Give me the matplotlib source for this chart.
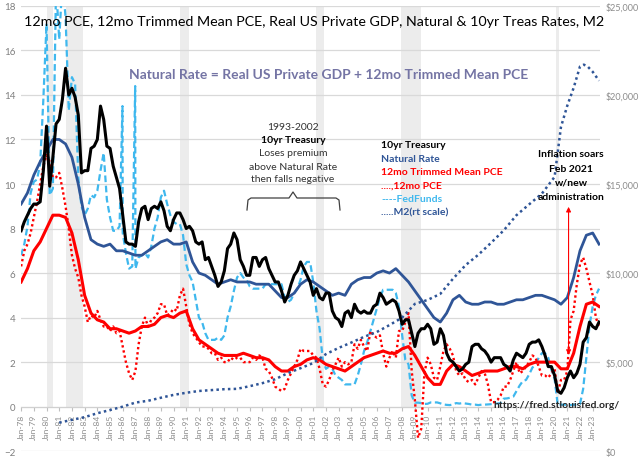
import numpy as np
import matplotlib
matplotlib.use("Agg")
import matplotlib.pyplot as plt
from matplotlib.lines import Line2D
from matplotlib.ticker import FuncFormatter

plt.rcParams['font.family'] = ['Lato', 'DejaVu Sans']

# quarterly series, Jan-78 .. Q3-23
treas10 = [
    7.9, 8.3, 8.6, 8.9,   9.1, 9.1, 9.2, 10.6,   12.6, 9.9, 11.2, 12.7,
    12.9, 13.8, 15.2, 14.0,   14.3, 13.9, 13.1, 10.5,   10.6, 10.6, 11.6, 11.7,
    12.0, 13.5, 12.9, 11.7,   11.6, 10.8, 10.3, 9.8,   8.6, 7.4, 7.3, 7.3,
    7.2, 8.3, 8.9, 9.0,   8.4, 8.9, 9.0, 8.9,   9.2, 8.8, 8.1, 7.9,
    8.4, 8.7, 8.7, 8.4,   8.0, 8.1, 7.9, 7.4,   7.3, 7.4, 6.6, 6.7,
    6.3, 5.9, 5.4, 5.6,   6.1, 7.1, 7.3, 7.8,   7.5, 6.6, 6.3, 5.9,
    5.9, 6.7, 6.7, 6.3,   6.6, 6.7, 6.2, 5.9,   5.6, 5.6, 5.2, 4.7,
    5.0, 5.5, 5.9, 6.1,   6.5, 6.2, 5.9, 5.6,   5.0, 5.3, 4.9, 4.8,
    5.1, 5.1, 4.3, 4.0,   3.9, 3.6, 4.2, 4.3,   4.0, 4.6, 4.3, 4.2,
    4.3, 4.2, 4.2, 4.5,   4.6, 5.1, 4.9, 4.6,   4.7, 4.8, 4.7, 4.3,
    3.7, 3.9, 3.9, 3.3,   2.7, 3.3, 3.5, 3.5,   3.7, 3.5, 2.8, 2.9,
    3.5, 3.2, 2.4, 2.1,   2.0, 1.8, 1.6, 1.7,   1.9, 2.0, 2.7, 2.8,
    2.8, 2.6, 2.5, 2.3,   2.0, 2.2, 2.2, 2.2,   1.9, 1.8, 1.6, 2.1,
    2.4, 2.3, 2.2, 2.4,   2.8, 2.9, 2.9, 3.0,   2.7, 2.3, 1.8, 1.8,
    1.4, 0.7, 0.6, 0.85,   1.3, 1.6, 1.3, 1.5,   1.9, 2.9, 3.1, 3.8,
    3.6, 3.5, 3.8,
]

fedfunds = [
    6.8, 7.3, 8.1, 9.6,   10.1, 10.2, 10.9, 13.8,   17.2, 9.5, 9.8, 18.9,
    16.5, 19.1, 17.5, 13.3,   14.8, 14.5, 10.3, 9.0,   8.6, 8.9, 9.5, 9.4,
    9.7, 10.6, 11.4, 9.3,   8.5, 7.9, 7.9, 8.1,   7.8, 6.9, 6.2, 6.3,
    6.2, 6.7, 6.8, 6.9,   6.7, 7.2, 8.0, 8.5,   9.4, 9.7, 9.1, 8.6,
    8.3, 8.2, 8.2, 7.7,   6.4, 5.9, 5.6, 4.8,   4.0, 3.8, 3.3, 3.0,
    3.0, 3.0, 3.1, 3.0,   3.2, 4.0, 4.5, 5.2,   5.8, 6.0, 5.8, 5.7,
    5.4, 5.3, 5.3, 5.3,   5.3, 5.5, 5.5, 5.5,   5.5, 5.5, 5.5, 4.9,
    4.7, 4.8, 5.1, 5.3,   5.7, 6.3, 6.5, 6.5,   5.6, 4.3, 3.5, 2.1,
    1.7, 1.8, 1.7, 1.4,   1.3, 1.2, 1.0, 1.0,   1.0, 1.0, 1.4, 1.9,
    2.5, 2.9, 3.4, 3.9,   4.4, 4.9, 5.25, 5.25,   5.25, 5.25, 5.1, 4.5,
    3.2, 2.1, 1.9, 0.5,   0.18, 0.18, 0.16, 0.12,   0.13, 0.19, 0.19, 0.19,
    0.15, 0.1, 0.08, 0.07,   0.1, 0.16, 0.14, 0.16,   0.14, 0.12, 0.09, 0.09,
    0.07, 0.09, 0.09, 0.1,   0.11, 0.13, 0.14, 0.16,   0.36, 0.37, 0.4, 0.45,
    0.7, 0.95, 1.15, 1.2,   1.45, 1.75, 1.9, 2.2,   2.4, 2.4, 2.2, 1.65,
    1.25, 0.06, 0.09, 0.09,   0.08, 0.07, 0.09, 0.08,   0.12, 0.8, 2.2, 3.65,
    4.5, 5.0, 5.3,
]
# year-end fed funds spikes
ff_spike_x = [1985.98, 1986.98]
ff_spike = [13.5, 14.4]

pce12 = [
    6.3, 7.0, 7.3, 7.8,   8.5, 9.2, 10.0, 10.8,   11.3, 11.0, 10.3, 10.3,
    10.5, 9.8, 9.0, 8.0,   6.8, 6.2, 5.8, 5.0,   4.5, 3.8, 4.1, 4.0,
    4.3, 3.9, 3.6, 3.6,   3.4, 3.6, 3.3, 3.4,   2.7, 2.0, 1.5, 1.2,
    1.6, 2.8, 3.6, 4.0,   3.6, 3.9, 4.0, 4.2,   4.6, 4.6, 4.1, 4.2,
    4.4, 4.3, 5.0, 5.3,   4.5, 3.7, 3.3, 3.1,   2.9, 2.7, 2.7, 2.6,
    2.4, 2.4, 2.1, 2.2,   2.0, 2.0, 2.2, 2.1,   2.2, 2.2, 2.0, 2.0,
    2.0, 2.2, 2.1, 2.3,   2.2, 1.7, 1.6, 1.3,   0.9, 0.8, 0.7, 0.8,
    1.2, 1.5, 1.8, 2.1,   2.6, 2.5, 2.5, 2.5,   2.3, 2.2, 1.7, 1.0,
    0.9, 1.2, 1.6, 1.9,   2.2, 1.8, 2.0, 1.9,   2.0, 2.8, 2.6, 3.0,
    2.7, 2.5, 3.4, 3.2,   3.1, 3.2, 2.4, 1.8,   2.2, 2.5, 2.2, 3.4,
    3.4, 3.8, 4.2, 1.6,   0.3, -1.4, -1.0, 1.5,   2.2, 1.9, 1.3, 1.2,
    1.8, 2.5, 2.8, 2.6,   2.3, 1.6, 1.4, 1.5,   1.2, 1.1, 1.2, 1.0,
    1.3, 1.6, 1.5, 1.0,   0.2, 0.2, 0.3, 0.5,   0.9, 0.9, 1.2, 1.6,
    2.0, 1.5, 1.6, 1.8,   2.0, 2.3, 2.2, 1.8,   1.4, 1.4, 1.3, 1.5,
    1.7, 0.6, 1.2, 1.2,   1.6, 3.9, 4.3, 5.5,   6.4, 6.7, 6.2, 5.6,
    5.0, 4.0, 3.6,
]

# semiannual series, Jan-78 .. Jul-23
natural = [
    9.1, 9.6,  10.4, 11.0,  11.5, 12.0,  12.0, 11.8,  11.2, 10.0,
    8.5, 7.5,  7.3, 7.2,  7.3, 7.0,  7.0, 6.9,  6.8, 6.8,
    7.0, 7.2,  7.4, 7.5,  7.3, 7.3,  7.4, 6.5,  6.0, 5.9,
    5.7, 5.5,  5.6, 5.7,  5.6, 5.6,  5.6, 5.5,  5.5, 5.5,
    5.2, 4.9,  4.9, 5.1,  5.5, 5.7,  5.6, 5.4,  5.2, 5.0,
    5.1, 5.0,  5.5, 5.7,  5.8, 5.8,  6.0, 6.1,  6.0, 6.2,
    5.9, 5.6,  5.2, 4.8,  4.4, 4.0,  3.8, 4.2,  4.8, 5.0,
    4.7, 4.6,  4.6, 4.7,  4.7, 4.6,  4.6, 4.7,  4.8, 4.8,
    4.9, 5.0,  5.0, 4.9,  4.8, 4.6,  4.9, 5.8,  7.0, 7.7,
    7.8, 7.3,
]

trimmed = [
    5.6, 6.2,  7.0, 7.4,  8.0, 8.6,  8.6, 8.5,  7.8, 6.6,
    5.0, 4.2,  3.9, 3.8,  3.5, 3.5,  3.4, 3.3,  3.4, 3.6,
    3.6, 3.7,  4.0, 4.1,  4.0, 4.2,  4.3, 3.5,  3.0, 2.8,
    2.6, 2.4,  2.3, 2.3,  2.3, 2.4,  2.3, 2.2,  2.2, 2.1,
    1.8, 1.6,  1.6, 1.8,  1.9, 2.1,  2.2, 2.1,  1.9, 1.8,
    1.7, 1.6,  1.8, 2.0,  2.2, 2.3,  2.4, 2.5,  2.4, 2.4,
    2.6, 2.7,  2.3, 1.8,  1.3, 1.0,  1.0, 1.6,  1.9, 1.8,
    1.6, 1.4,  1.5, 1.6,  1.6, 1.6,  1.7, 1.8,  1.8, 1.7,
    1.9, 2.0,  2.0, 2.0,  2.0, 1.7,  1.7, 2.4,  3.6, 4.6,
    4.7, 4.5,
]

# M2, $ billions (right scale)
m2_years = [1981, 1982, 1983, 1984, 1985, 1986, 1987, 1988, 1989, 1990,
            1991, 1992, 1993, 1994, 1995, 1996, 1997, 1998, 1999, 2000,
            2001, 2002, 2003, 2004, 2005, 2006, 2007, 2008, 2009, 2010,
            2011, 2012, 2013, 2014, 2015, 2016, 2017, 2018, 2019, 2020,
            2020.5, 2021, 2021.5, 2022, 2022.3, 2022.6, 2023, 2023.5]
m2 = [1600, 1760, 1910, 2130, 2310, 2500, 2730, 2830, 3000, 3160,
      3280, 3380, 3430, 3480, 3500, 3650, 3820, 4040, 4380, 4660,
      4950, 5450, 5800, 6100, 6420, 6690, 7080, 7500, 8270, 8490,
      8830, 9680, 10450, 11030, 11700, 12400, 13250, 13860, 14460, 15400,
      18200, 19400, 20400, 21600, 21700, 21600, 21300, 20800]

recessions = [(1980.0, 1980.5), (1981.5, 1982.85), (1990.5, 1991.2),
              (2001.2, 2001.85), (2007.9, 2009.45), (2020.1, 2020.35)]

tick_years = list(range(1978, 2024))

q_x = 1978 + 0.25 * np.arange(len(treas10))
h_x = 1978 + 0.5 * np.arange(len(natural))
ff_x = np.concatenate([q_x, ff_spike_x])
ff_y = np.concatenate([fedfunds, ff_spike])
order = np.argsort(ff_x)
ff_x, ff_y = ff_x[order], ff_y[order]

XL = (1978, 2023.6)

fig = plt.figure(figsize=(6.4, 4.6), dpi=100)
ax = fig.add_axes([0.033, 0.017, 0.905, 0.968])
ax.set_xlim(*XL)
ax.set_ylim(-2, 18)

for a, b in recessions:
    ax.axvspan(a, b, ymin=0.1, ymax=1, color='#ececec', zorder=0, lw=0)

ax.plot(ff_x, ff_y, color='#3FB8EE', lw=1.6, ls=(0, (3, 1.6)), zorder=2)
ax.plot(q_x, pce12, color='#FF0000', lw=1.7, ls=(0, (1, 1.2)), zorder=3)
ax.plot(h_x, natural, color='#2F5597', lw=2.0, zorder=4)
ax.plot(h_x, trimmed, color='#FF0000', lw=2.2, zorder=5)
ax.plot(q_x, treas10, color='black', lw=2.2, zorder=6)

ax.set_yticks(range(-2, 19, 2))
ax.grid(axis='y', color='#d9d9d9', lw=0.9, zorder=0)
ax.tick_params(axis='y', length=0, labelsize=7, labelcolor='#7f7f7f', pad=4)
ax.set_xticks(tick_years)
ax.set_xticklabels(['Jan-%02d' % (y % 100) for y in tick_years])
ax.tick_params(axis='x', length=3, color='#bfbfbf', pad=2, labelrotation=90,
               labelsize=6, labelcolor='#8c8c8c')
for s in ['top', 'right', 'left']:
    ax.spines[s].set_visible(False)
ax.spines['bottom'].set_position(('data', 0))
ax.spines['bottom'].set_color('#d0d0d0')

ax2 = ax.twinx()
ax2.set_ylim(0, 25000)
ax2.set_xlim(*XL)
ax2.plot(m2_years, m2, color='#2F5597', lw=1.8, ls=(0, (1, 1.3)), zorder=3)
ax2.set_yticks(range(0, 25001, 5000))
ax2.yaxis.set_major_formatter(FuncFormatter(lambda v, p: '${:,.0f}'.format(v)))
ax2.tick_params(axis='y', length=0, labelsize=6.5, labelcolor='#8c8c8c', pad=4)
for s in ax2.spines.values():
    s.set_visible(False)


def ft(x, y, s, **kw):
    fig.text(x / 640, 1 - y / 460, s, **kw)


ft(314, 22, '12mo PCE, 12mo Trimmed Mean PCE, Real US Private GDP, Natural & 10yr Treas Rates, M2',
   ha='center', va='center', fontsize=10.3, color='black')
ft(329, 75, 'Natural Rate = Real US Private GDP + 12mo Trimmed Mean PCE',
   ha='center', va='center', fontsize=10, color='#7474A4', fontweight='bold')

# legend block
leg = [('10yr Treasury', 'black'), ('Natural Rate', '#2F5597'),
       ('12mo Trimmed Mean PCE', '#FF0000'), ('....,12mo PCE', '#FF0000'),
       ('----FedFunds', '#3FB8EE'), ('.....M2(rt scale)', '#2F5597')]
for i, (s, c) in enumerate(leg):
    ft(381, 146 + i * 13.3, s, ha='left', va='center', fontsize=7.5,
       color=c, fontweight='bold')

# 1993-2002 note
ft(293, 127, '1993-2002', ha='center', va='center', fontsize=7.5, color='#333333')
ft(293, 140.5, '10yr Treasury', ha='center', va='center', fontsize=7.5,
   color='black', fontweight='bold')
ft(293, 154, 'Loses premium', ha='center', va='center', fontsize=7.5, color='#333333')
ft(293, 167, 'above Natural Rate', ha='center', va='center', fontsize=7.5, color='#333333')
ft(293, 180, 'then falls negative', ha='center', va='center', fontsize=7.5, color='#333333')
bx = np.array([247, 248, 251, 289, 293, 297, 336, 339, 340])
by = np.array([211, 201, 199, 199, 193, 199, 199, 201, 211])
fig.add_artist(Line2D(bx / 640, 1 - by / 460, color='#404040', lw=0.9))

# inflation note
for i, s in enumerate(['Inflation soars', 'Feb 2021', 'w/new', 'administration']):
    ft(571, 155 + i * 14, s, ha='center', va='center', fontsize=7.5,
       color='black', fontweight='bold')
ax.annotate('', xy=(2021.1, 9.1), xytext=(2021.1, 2.2),
            arrowprops=dict(arrowstyle='<|-|>', color='#FF0000', lw=0.8,
                            mutation_scale=7), zorder=7)

ft(557, 406, 'https://fred.stlouisfed.org/', ha='center', va='center',
   fontsize=7.5, color='#262626', fontweight='bold')

fig.savefig('out.png', dpi=100)
